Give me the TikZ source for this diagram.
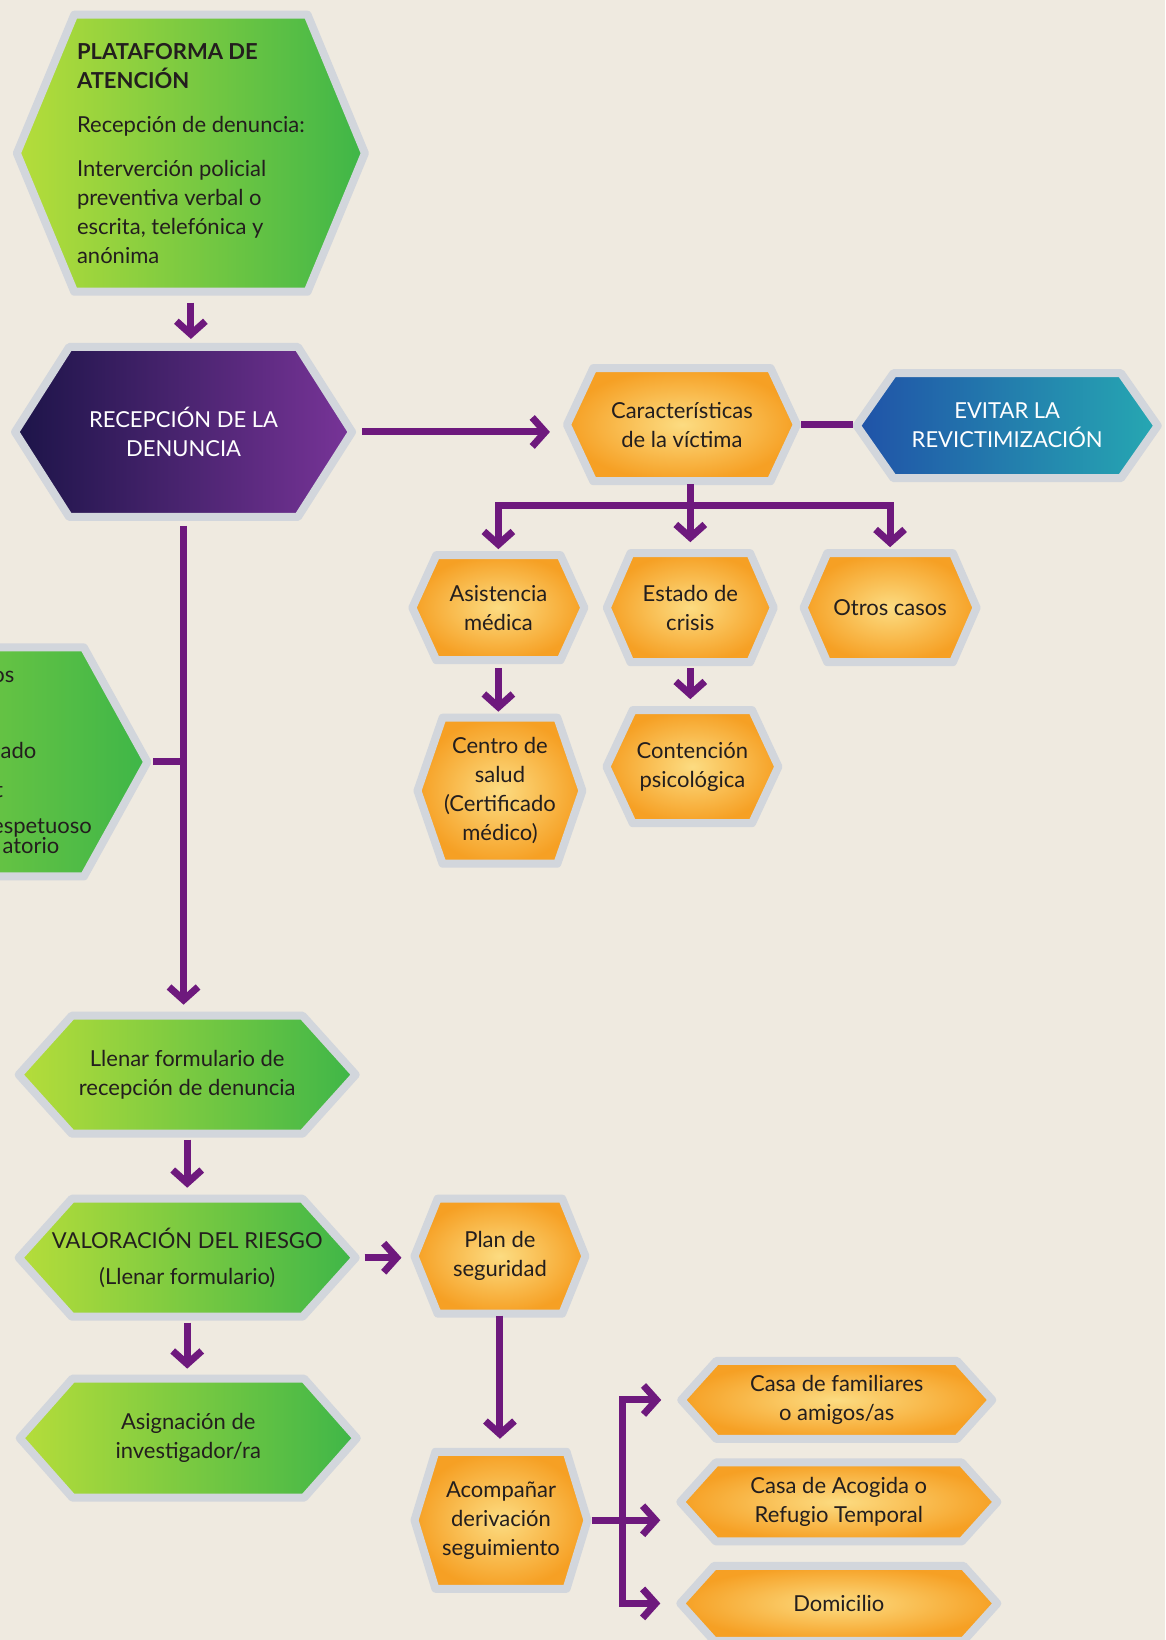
\documentclass[tikz,border=0pt]{standalone}
\usepackage{fontspec}
\setmainfont{Lato}
\usetikzlibrary{shapes.symbols,arrows.meta}

\definecolor{papel}{RGB}{239,234,224}
\definecolor{borde}{RGB}{210,214,220}
\definecolor{morado}{RGB}{110,25,125}
\definecolor{verdeA}{RGB}{182,221,58}
\definecolor{verdeB}{RGB}{168,222,122}
\definecolor{verdeC}{RGB}{62,182,72}
\definecolor{naranjaA}{RGB}{252,220,130}
\definecolor{naranjaB}{RGB}{246,160,36}
\definecolor{moradoA}{RGB}{28,20,72}
\definecolor{moradoB}{RGB}{120,52,152}
\definecolor{azulA}{RGB}{32,82,168}
\definecolor{azulB}{RGB}{38,168,178}
\definecolor{texto}{RGB}{35,30,30}

\begin{document}
\begin{tikzpicture}[x=1.0458pt, y=-1.0458pt,
  hexa/.style={shape=signal, signal to=east and west, draw=borde, line width=8pt,
    line join=round, outer sep=0pt, inner sep=0pt, align=center, text=texto,
    font=\fontsize{22}{29}\selectfont},
  verde/.style={hexa, left color=verdeA, middle color=verdeB, right color=verdeC},
  naranja/.style={hexa, inner color=naranjaA, outer color=naranjaB},
  frag/.style={inner sep=0pt, anchor=base east, text=texto, font=\fontsize{22}{29}\selectfont},
  lin/.style={draw=morado, line width=7pt},
  arr/.style={lin, -{Straight Barb[length=13pt, width=29pt]}}]

\useasboundingbox (0,0) rectangle (1114,1568);
\fill[papel] (0,0) rectangle (1114,1568);

% Columna izquierda
\node[verde, align=left, minimum width=348pt, minimum height=277pt, signal pointer angle=135] (plat) at (182.5,146.5)
  {\textbf{PLATAFORMA DE}\\\textbf{ATENCIÓN}\\[15pt]Recepción de denuncia:\\[15pt]Interverción policial\\preventiva verbal o\\escrita, telefónica y\\anónima};
\node[hexa, left color=moradoA, middle color=moradoA!50!moradoB, right color=moradoB, text=white,
  minimum width=337pt, minimum height=170pt, signal pointer angle=115] (recep) at (175.5,413)
  {RECEPCIÓN DE LA\\DENUNCIA};
\node[verde, minimum width=337pt, minimum height=118pt, signal pointer angle=96] (llenar) at (179,1027.5)
  {Llenar formulario de\\recepción de denuncia};
\node[verde, minimum width=337pt, minimum height=118pt, signal pointer angle=96] (valor) at (179,1202.5)
  {\makebox[220pt]{VALORACIÓN DEL RIESGO}\\[7pt](Llenar formulario)};
\node[verde, minimum width=337pt, minimum height=119pt, signal pointer angle=97] (asign) at (180,1375)
  {Asignación de\\investigador/ra};

% Nodo cortado en el borde
\node[verde, minimum width=462pt, minimum height=229pt, signal pointer angle=122] (izq) at (-80,728.5) {};
\node[frag] (izq1) at (14,653) {os};
\node[frag] (izq2) at (35,725) {ado};
\node[frag] (izq3) at (3,762) {t};
\node[frag] (izq4) at (88,797) {espetuoso};
\node[frag] (izq5) at (57,816) {atorio};

% Victima
\node[naranja, minimum width=230pt, minimum height=113pt, signal pointer angle=130] (caract) at (652,406)
  {Características\\de la víctima};
\node[hexa, left color=azulA, right color=azulB, text=white,
  minimum width=301pt, minimum height=105pt, signal pointer angle=110] (evitar) at (963,407)
  {EVITAR LA\\REVICTIMIZACIÓN};
\node[naranja, minimum width=172pt, minimum height=105pt, signal pointer angle=131] (asist) at (476.5,581)
  {Asistencia\\médica};
\node[naranja, minimum width=167pt, minimum height=109pt, signal pointer angle=133] (estado) at (660,581)
  {Estado de\\crisis};
\node[naranja, minimum width=173pt, minimum height=109pt, signal pointer angle=133] (otros) at (851,581)
  {Otros casos};
\node[naranja, minimum width=165pt, minimum height=146pt, signal pointer angle=142] (centro) at (478,756)
  {Centro de\\salud\\(Certificado\\médico)};
\node[naranja, minimum width=172pt, minimum height=113pt, signal pointer angle=130] (conten) at (662,733)
  {Contención\\psicológica};

% Seguridad
\node[naranja, minimum width=171pt, minimum height=115pt, signal pointer angle=136] (plan) at (478,1201)
  {Plan de\\seguridad};
\node[naranja, minimum width=173pt, minimum height=137pt, signal pointer angle=146] (acomp) at (479,1453.5)
  {Acompañar\\derivación\\seguimiento};
\node[naranja, minimum width=311pt, minimum height=78pt, signal pointer angle=96] (fam) at (800,1338.5)
  {Casa de familiares\\o amigos/as};
\node[naranja, minimum width=317pt, minimum height=79pt, signal pointer angle=96] (acog) at (802,1436)
  {Casa de Acogida o\\Refugio Temporal};
\node[naranja, minimum width=317pt, minimum height=75pt, signal pointer angle=96] (dom) at (802,1533)
  {Domicilio};

% Flechas
\draw[arr, shorten <=11pt, shorten >=8pt] (plat.south) -- (plat.south |- recep.north);
\draw[arr, shorten <=10pt, shorten >=17pt] (recep.east) -- (recep.east -| caract.west);
\draw[lin, shorten <=4pt, shorten >=4pt] (caract.east) -- (caract.east -| evitar.west);
\coordinate (ramal) at (660,483);
\draw[arr, shorten <=3pt, shorten >=11pt] (caract.south -| estado.north) -- (estado.north);
\draw[arr, shorten >=6pt] (ramal) -| (asist.north);
\draw[arr, shorten >=6pt] (ramal) -| (otros.north);
\draw[arr, shorten <=8pt, shorten >=6pt] (asist.south) -- (asist.south |- centro.north);
\draw[arr, shorten <=6pt, shorten >=11pt] (estado.south) -- (estado.south |- conten.north);
\draw[arr, shorten <=9pt, shorten >=11pt] (recep.south) -- (recep.south |- llenar.north);
\draw[lin, shorten <=6pt] (izq.east) -- (izq.east -| recep.south);
\draw[arr, shorten <=6pt, shorten >=11pt] (llenar.south) -- (llenar.south |- valor.north);
\draw[arr, shorten <=9pt, shorten >=13pt] (valor.east) -- (valor.east -| plan.west);
\draw[arr, shorten <=6pt, shorten >=10pt] (valor.south) -- (valor.south |- asign.north);
\draw[arr, shorten <=2pt, shorten >=13pt] (plan.south) -- (plan.south |- acomp.north);
\path (acomp.east) ++(33,0) coordinate (reparto);
\draw[arr, shorten <=4pt, shorten >=20pt] (acomp.east) -- (acomp.east -| acog.west);
\draw[arr, shorten >=20pt] (reparto) |- (fam.west);
\draw[arr, shorten >=20pt] (reparto) |- (dom.west);

\end{tikzpicture}
\end{document}
